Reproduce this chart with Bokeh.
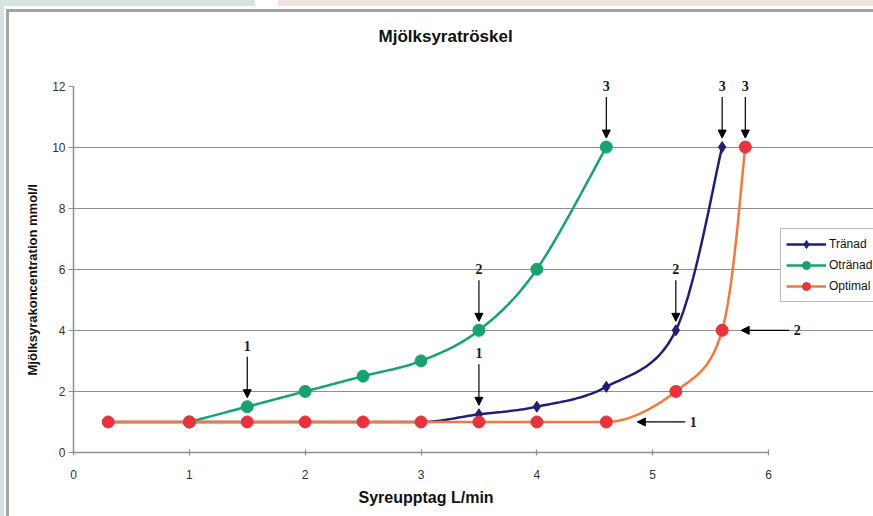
import numpy as np
from bokeh.plotting import figure
from bokeh.models import (ColumnDataSource, Arrow, NormalHead, Legend, LegendItem,
                          Range1d, FixedTicker, Title)
from bokeh.core.properties import value
from bokeh.embed import file_html
from bokeh.resources import INLINE

# ---------------- data ----------------
title_text = "Mjölksyratröskel"
x_label = "Syreupptag L/min"
y_label = "Mjölksyrakoncentration mmol/l"

series_names = ["Tränad", "Otränad", "Optimal"]

tranad_x = [0.3, 1, 1.5, 2, 2.5, 3, 3.5, 4, 4.6, 5.2, 5.6]
tranad_y = [1, 1, 1, 1, 1, 1, 1.25, 1.5, 2.15, 4, 10]

otranad_x = [1, 1.5, 2, 2.5, 3, 3.5, 4, 4.6]
otranad_y = [1, 1.5, 2, 2.5, 3, 4, 6, 10]

optimal_x = [0.3, 1, 1.5, 2, 2.5, 3, 3.5, 4, 4.6, 5.2, 5.6, 5.8]
optimal_y = [1, 1, 1, 1, 1, 1, 1, 1, 1, 2, 4, 10]

x_ticks = [0, 1, 2, 3, 4, 5, 6]
y_ticks = [0, 2, 4, 6, 8, 10, 12]

# threshold markers (arrow pointing down onto a point)
down_x = [1.5, 3.5, 3.5, 4.6, 5.2, 5.6, 5.8]
down_y = [1.5, 4, 1.25, 10, 4, 10, 10]
down_lbl = ["1", "2", "1", "3", "2", "3", "3"]
# threshold markers (arrow pointing left onto a point)
left_x = [5.6, 4.6]
left_y = [4, 1]
left_lbl = ["2", "1"]

# ---------------- layout constants ----------------
OFF_X, OFF_Y = 9, 12          # chart area sits inside a thin frame border
W, H = 873 - OFF_X, 516 - OFF_Y
ML, MR, MT, MB = 64, 0, 38, 64
SX = 695 / 6.0               # px per x unit (axis 0..6 spans 695 px)
SY = 366.5 / 12.0            # px per y unit (axis 0..12 spans 366.5 px)
X_END = (W - ML - MR) / SX   # frame extends right of the axis for legend/labels
Y_END = (H - MT - MB) / SY   # frame extends above the axis for labels

C_TR = "#1f1f78"
C_OT = "#16a370"
C_OP_LINE = "#f2793a"
C_OP_MARK = "#e8333c"
GRID = "#8f8f8f"


def smooth(xs, ys, n=24):
    """Excel-like smoothed line (bezier) drawn through the data points."""
    P = np.column_stack([np.asarray(xs, float) * SX, np.asarray(ys, float) * SY])
    m = len(P)
    T = np.zeros_like(P)
    for i in range(m):
        a = P[i - 1] if i > 0 else P[i]
        b = P[i + 1] if i + 1 < m else P[i]
        T[i] = (b - a) / 6.0
        if (i > 0 and P[i][1] == P[i - 1][1]) or (i + 1 < m and P[i][1] == P[i + 1][1]):
            T[i][1] = 0.0
    out = [P[0]]
    t = np.linspace(0, 1, n)[1:, None]
    for i in range(m - 1):
        p1, p2 = P[i], P[i + 1]
        c1 = p1 + T[i]
        c2 = p2 - T[i + 1]
        seg = ((1 - t) ** 3) * p1 + 3 * ((1 - t) ** 2) * t * c1 + 3 * (1 - t) * t * t * c2 + t ** 3 * p2
        out.extend(seg)
    out = np.array(out)
    return out[:, 0] / SX, out[:, 1] / SY


p = figure(width=W, height=H, x_range=Range1d(0, X_END), y_range=Range1d(0, Y_END),
           output_backend="svg", toolbar_location=None,
           min_border_left=ML, min_border_right=MR, min_border_top=MT, min_border_bottom=MB)
p.outline_line_color = None
p.background_fill_color = "white"
p.border_fill_color = "white"

p.title.text = title_text
p.title.align = "left"
p.title.offset = 305
p.title.text_font = "Liberation Sans"
p.title.text_font_size = "17px"
p.title.text_font_style = "bold"
p.title.text_color = "#111111"
p.title.standoff = 10

for ax in (p.xaxis[0], p.yaxis[0]):
    ax.axis_line_color = GRID
    ax.axis_line_width = 1.5
    ax.major_tick_line_color = GRID
    ax.major_tick_line_width = 1.2
    ax.minor_tick_line_color = None
    ax.major_label_text_font = "Liberation Sans"
    ax.major_label_text_font_size = "12px"
    ax.major_label_text_color = "#333333"

p.xaxis.bounds = (0, 6)
p.yaxis.bounds = (0, 12)
p.xaxis.ticker = FixedTicker(ticks=x_ticks)
p.yaxis.ticker = FixedTicker(ticks=y_ticks)
p.xaxis.major_tick_in = 3
p.xaxis.major_tick_out = 3
p.xaxis.major_label_standoff = 14
p.yaxis.major_tick_in = 0
p.yaxis.major_tick_out = 5
p.yaxis.major_label_standoff = 3

# axis titles, centred on the drawn 0..6 / 0..12 axes (not on the larger frame)
ytitle = Title(text=y_label, align="left", offset=77, standoff=20,
               text_font="Liberation Sans", text_font_size="13px",
               text_font_style="bold", text_color="#111111")
p.add_layout(ytitle, "left")
xtitle = Title(text=x_label, align="left", offset=285, standoff=11,
               text_font="Liberation Sans", text_font_size="16px",
               text_font_style="bold", text_color="#111111")
p.add_layout(xtitle, "below")

p.xgrid.visible = False
p.ygrid.ticker = FixedTicker(ticks=[t for t in y_ticks if 0 < t < 12])
p.ygrid.bounds = (0, 6)
p.ygrid.grid_line_color = GRID
p.ygrid.grid_line_width = 1.2

# ---------------- series ----------------
sx, sy = smooth(tranad_x, tranad_y)
l1 = p.line(sx, sy, line_color=C_TR, line_width=2.5)
m1 = p.scatter(tranad_x, tranad_y, marker="diamond", size=11, fill_color=C_TR, line_color=C_TR)

sx, sy = smooth(otranad_x, otranad_y)
l2 = p.line(sx, sy, line_color=C_OT, line_width=2.5)
m2 = p.scatter(otranad_x, otranad_y, marker="circle", size=12, fill_color=C_OT, line_color=C_OT)

sx, sy = smooth(optimal_x, optimal_y)
l3 = p.line(sx, sy, line_color=C_OP_LINE, line_width=2.5)
m3 = p.scatter(optimal_x, optimal_y, marker="circle", size=12, fill_color=C_OP_MARK, line_color=C_OP_MARK)

# ---------------- threshold arrows ----------------
dx = np.array(down_x, float)
dy = np.array(down_y, float)
src_d = ColumnDataSource(dict(x=dx, ys=dy + 50 / SY, ye=dy + 9 / SY, yl=dy + 61 / SY, t=down_lbl))
p.add_layout(Arrow(source=src_d, x_start="x", y_start="ys", x_end="x", y_end="ye",
                   line_color="black", line_width=1.2,
                   end=NormalHead(size=8, fill_color="black", line_color="black")))
p.text(x="x", y="yl", text="t", source=src_d, text_font=value("Liberation Serif"),
       text_font_style="bold", text_font_size="14px", text_align="center",
       text_baseline="middle", text_color="#1a1a1a")

left_gap = [19, 31]
lx = np.array(left_x, float)
ly = np.array(left_y, float)
gap = np.array(left_gap, float)
src_l = ColumnDataSource(dict(y=ly, xs=lx + (gap + 48) / SX, xe=lx + gap / SX,
                              xl=lx + (gap + 56) / SX, t=left_lbl))
p.add_layout(Arrow(source=src_l, x_start="xs", y_start="y", x_end="xe", y_end="y",
                   line_color="black", line_width=1.2,
                   end=NormalHead(size=8, fill_color="black", line_color="black")))
p.text(x="xl", y="y", text="t", source=src_l, text_font=value("Liberation Serif"),
       text_font_style="bold", text_font_size="14px", text_align="center",
       text_baseline="middle", text_color="#1a1a1a")

# ---------------- legend ----------------
legend = Legend(items=[LegendItem(label=series_names[0], renderers=[l1, m1]),
                       LegendItem(label=series_names[1], renderers=[l2, m2]),
                       LegendItem(label=series_names[2], renderers=[l3, m3])],
                location=(707, 150), orientation="vertical")
legend.label_text_font = "Liberation Sans"
legend.label_text_font_size = "12px"
legend.label_text_color = "#111111"
legend.border_line_color = "#777777"
legend.border_line_width = 1
legend.background_fill_color = "white"
legend.glyph_width = 40
legend.glyph_height = 20
legend.label_height = 20
legend.spacing = 1
legend.padding = 5
legend.margin = 0
legend.label_standoff = 3
p.add_layout(legend)

page_template = """
{% block postamble %}
<style>
html, body { margin: 0; }
body {
  padding: 12px 0 0 9px;
  background:
    linear-gradient(#a4a4a4, #a4a4a4) 6px 9px / 3px 600px no-repeat,
    linear-gradient(#a4a4a4, #a4a4a4) 6px 9px / 900px 3px no-repeat,
    linear-gradient(to right, #d5e3e3 0px, #d5e3e3 255px, #ffffff 255px, #ffffff 278px,
                    #f1e2de 278px, #f1e2de 900px) 0 0 / 900px 6px no-repeat,
    linear-gradient(#d5e3e3, #d5e3e3) 0 0 / 4px 600px no-repeat,
    #ffffff;
  overflow: hidden;
}
</style>
{% endblock %}
"""

open("out.html", "w").write(file_html(p, INLINE, template=page_template))
